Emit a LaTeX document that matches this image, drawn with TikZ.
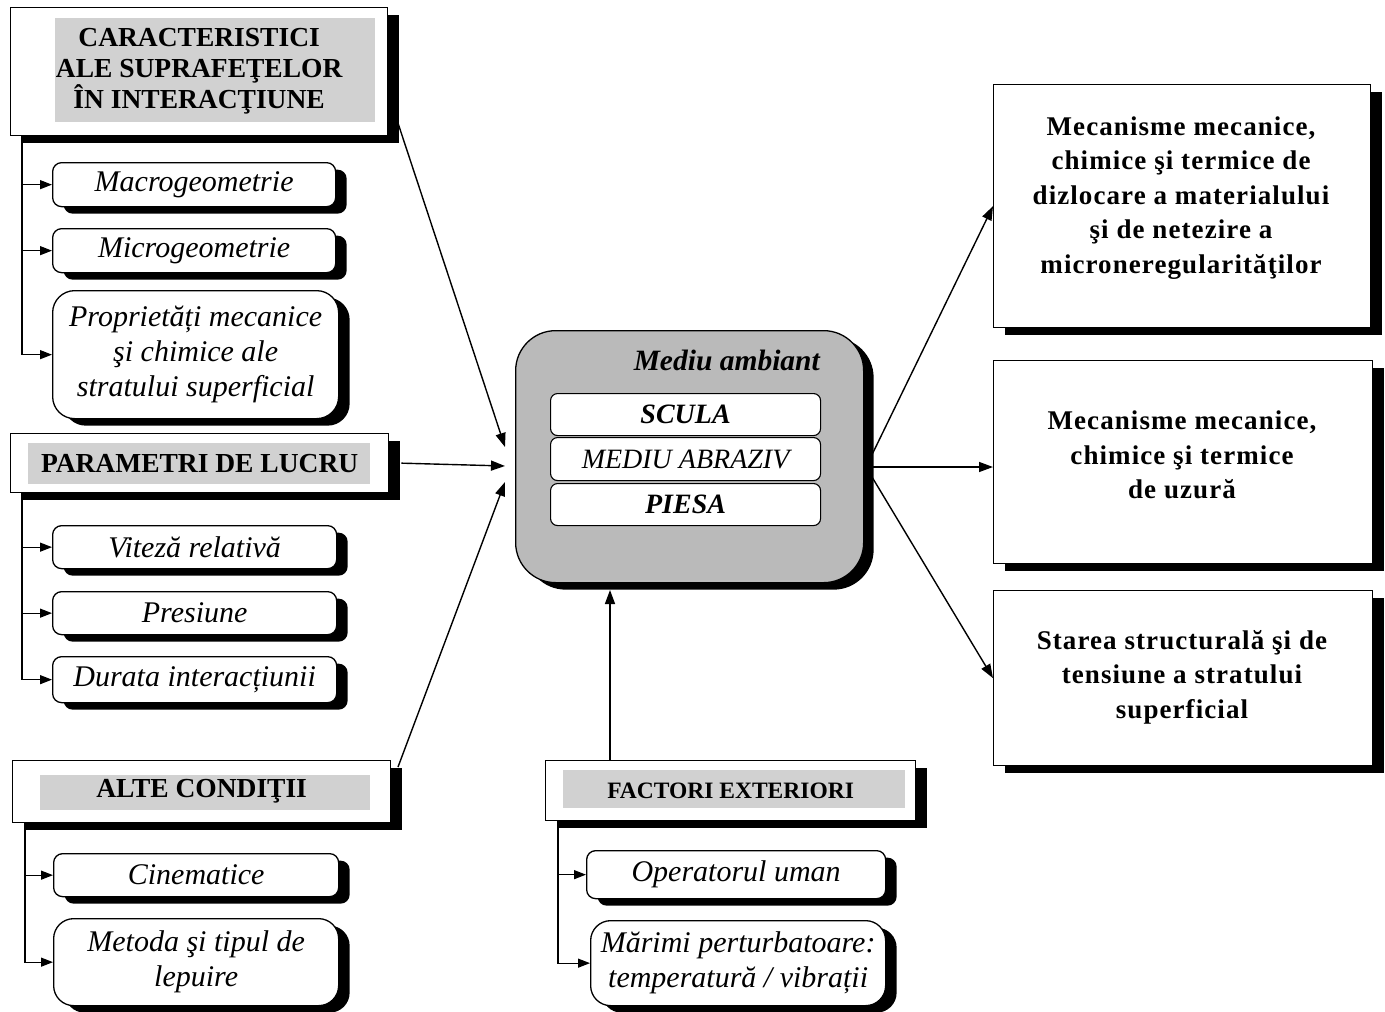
\documentclass[tikz,border=0pt]{standalone}
\usepackage{fontspec}
\setmainfont{Liberation Serif}
\usetikzlibrary{arrows.meta,shadows}
\begin{document}
\begin{tikzpicture}[x=1pt,y=-1pt,
  shad/.style={drop shadow={shadow xshift=11pt,shadow yshift=-7pt,fill=black,opacity=1}},
  hdr/.style={draw,line width=1.3pt,fill=white,shad,inner sep=0pt,anchor=north west},
  htxt/.style={font=\fontsize{27.5}{31}\selectfont\bfseries,align=center,inner sep=0pt},
  hl/.style={fill=black!18},
  item/.style={draw,line width=1.3pt,rounded corners=9pt,fill=white,shad,inner sep=0pt,anchor=north west,
    align=center,font=\fontsize{30}{35}\selectfont\itshape},
  inbox/.style={draw,line width=1.1pt,rounded corners=7pt,fill=white,inner sep=0pt,anchor=north west,
    minimum width=270,align=center,font=\fontsize{28}{30}\selectfont\itshape},
  outbox/.style={draw,line width=1.3pt,fill=white,shad,inner sep=0pt,anchor=north west},
  otxt/.style={font=\fontsize{27}{34.5}\selectfont\bfseries\addfontfeatures{LetterSpace=4},align=center,inner sep=0pt},
  arr/.style={line width=1.4pt,-{Triangle[length=14pt,width=10pt]}},
  tarr/.style={line width=1.3pt,-{Triangle[length=12pt,width=9pt]}}]
\useasboundingbox (0,0) rectangle (1385,1012);

% ---------- header 1 ----------
\node[hdr,minimum width=377,minimum height=128] (h1) at (10,7) {};
\fill[hl] (55,18) rectangle (375,122);
\node[htxt] (h1t) at (h1.center) {CARACTERISTICI\\ALE SUPRAFEŢELOR\\ÎN INTERACŢIUNE};
\node[item,minimum width=283,minimum height=44] (m1) at (52,162) {Macrogeometrie};
\node[item,minimum width=283,minimum height=44] (m2) at (52,228) {Microgeometrie};
\node[item,rounded corners=22pt,minimum width=286,minimum height=128] (m3) at (52,290) {Proprietăți mecanice\\şi chimice ale\\stratului superficial};

% ---------- header 2 ----------
\node[hdr,minimum width=378,minimum height=59] (h2) at (10,433) {};
\fill[hl] (28,443) rectangle (370,484);
\node[htxt] (h2t) at (h2.center) {PARAMETRI DE LUCRU};
\node[item,minimum width=284,minimum height=43] (p1) at (52,525) {Viteză relativă};
\node[item,minimum width=284,minimum height=43] (p2) at (52,591) {Presiune};
\node[item,minimum width=284,minimum height=46] (p3) at (52,656) {Durata interacțiunii};

% ---------- header 3 ----------
\node[hdr,minimum width=378,minimum height=62] (h3) at (12,760) {};
\fill[hl] (40,775) rectangle (370,810);
\node[htxt] (h3t) at (h3.center) {ALTE CONDIŢII};
\node[item,minimum width=285,minimum height=43] (a1) at (53,853) {Cinematice};
\node[item,rounded corners=20pt,minimum width=285,minimum height=87] (a2) at (53,918) {Metoda şi tipul de\\lepuire};

% ---------- header 4 ----------
\node[hdr,minimum width=370,minimum height=60] (h4) at (545,760) {};
\fill[hl] (563,770) rectangle (905,808);
\node[htxt,font=\fontsize{23.5}{26}\selectfont\bfseries] (h4t) at (h4.center) {FACTORI EXTERIORI};
\node[item,minimum width=299,minimum height=48] (f1) at (586,850) {Operatorul uman};
\node[item,rounded corners=20pt,minimum width=295,minimum height=85] (f2) at (590,920) {Mărimi perturbatoare:\\temperatură / vibrații};

% ---------- centre ----------
\node[draw,line width=1.3pt,rounded corners=40pt,fill=black!27,
  drop shadow={shadow xshift=10pt,shadow yshift=-7pt,fill=black,opacity=1},
  inner sep=0pt,anchor=north west,minimum width=348,minimum height=252] (c) at (515,330) {};
\node[anchor=east,inner sep=0pt,font=\fontsize{29.5}{30}\selectfont\bfseries\itshape] (mt) at (820,360) {Mediu ambiant};
\node[inbox,minimum height=42,font=\fontsize{28}{30}\selectfont\bfseries\itshape] (s1) at (550,393) {SCULA};
\node[inbox,minimum height=43] (s2) at (550,437) {MEDIU ABRAZIV};
\node[inbox,minimum height=42,font=\fontsize{28}{30}\selectfont\bfseries\itshape] (s3) at (550,483) {PIESA};

% ---------- right ----------
\node[outbox,minimum width=377,minimum height=243] (r1) at (993,84) {};
\node[otxt] (r1t) at (1181,198) {Mecanisme mecanice,\\chimice şi termice de\\dizlocare a materialului\\şi de netezire a\\microneregularităţilor};
\node[outbox,minimum width=379,minimum height=203] (r2) at (993,360) {};
\node[otxt] (r2t) at (1182,455) {Mecanisme mecanice,\\chimice şi termice\\de uzură};
\node[outbox,minimum width=379,minimum height=175] (r3) at (993,590) {};
\node[otxt] (r3t) at (1182,677) {Starea structurală şi de\\tensiune a stratului\\superficial};

% ---------- coordinates ----------
\coordinate (c1) at (505,447);
\coordinate (c2) at (505,466);
\coordinate (c3) at (505,482);
\coordinate (cb) at (610,590);
\coordinate (co) at (866,467);
\coordinate (h1o) at (392,105);
\coordinate (h3o) at (398,767);
\coordinate (h4o) at (610,760);

% ---------- connectors ----------
\draw[arr] (h1o) -- (c1);
\draw[arr] (h2.east) ++(12,0) -- (c2);
\draw[arr] (h3o) -- (c3);
\draw[arr] (h4o) -- (cb);
\draw[arr] (co) -- (r1.west);
\draw[arr] (co) -- (r2.west |- co);
\draw[arr] (co) -- (r3.west);

\draw[tarr] ([xshift=12pt]h1.south west) |- (m1.west);
\draw[tarr] ([xshift=12pt]h1.south west) |- (m2.west);
\draw[tarr] ([xshift=12pt]h1.south west) |- (m3.west);
\draw[tarr] ([xshift=12pt]h2.south west) |- (p1.west);
\draw[tarr] ([xshift=12pt]h2.south west) |- (p2.west);
\draw[tarr] ([xshift=12pt]h2.south west) |- (p3.west);
\draw[tarr] ([xshift=13pt]h3.south west) |- (a1.west);
\draw[tarr] ([xshift=13pt]h3.south west) |- (a2.west);
\draw[tarr] ([xshift=13pt]h4.south west) |- (f1.west);
\draw[tarr] ([xshift=13pt]h4.south west) |- (f2.west);
\end{tikzpicture}
\end{document}
